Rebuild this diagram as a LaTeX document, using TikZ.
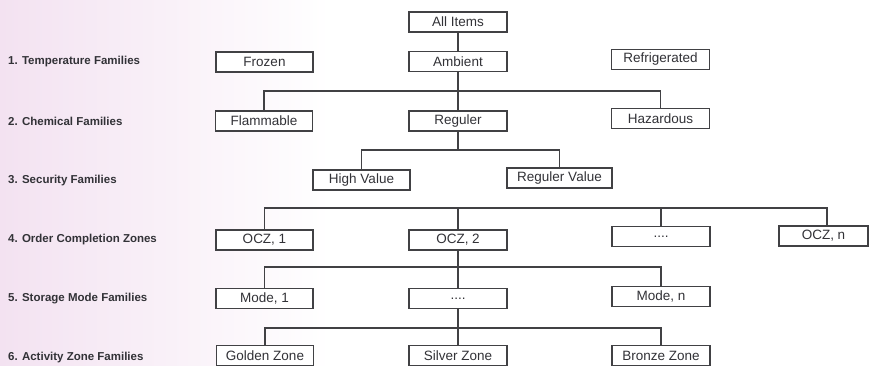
\documentclass[tikz,border=0pt]{standalone}
\usepackage{fontspec}
\setmainfont{Liberation Sans}
\definecolor{ink}{RGB}{50,50,55}
\definecolor{linec}{RGB}{65,65,68}
\definecolor{pinkbg}{RGB}{243,226,241}
\begin{document}
\begin{tikzpicture}[x=1pt,y=-1pt,
  box/.style={draw=linec, line width=1.3pt, fill=white, inner sep=0pt,
    minimum height=20pt, text=ink, font=\fontsize{13.5}{14}\selectfont},
  wA/.style={minimum width=97pt},
  wB/.style={minimum width=98pt},
  lab/.style={anchor=west, inner sep=0pt, text=ink, font=\fontsize{11.5}{12}\selectfont\bfseries},
  conn/.style={draw=linec, line width=1.3pt}]
\useasboundingbox (0,0) rectangle (870,366);
\shade[left color=pinkbg, right color=white] (0,0) rectangle (330,366);
% level labels
\node[lab] (l1) at (8,62) {1. Temperature Families};
\node[lab] (l2) at (8,121) {2. Chemical Families};
\node[lab] (l3) at (8,181) {3. Security Families};
\node[lab] (l4) at (8,240) {4. Order Completion Zones};
\node[lab] (l5) at (8,299) {5. Storage Mode Families};
\node[lab] (l6) at (8,358) {6. Activity Zone Families};
% boxes
\node[box,wB] (all) at (458,22) {All Items};
\node[box,wA] (frozen) at (264.5,62) {Frozen};
\node[box,wB] (amb) at (458,61.5) {Ambient};
\node[box,wB] (refr) at (660.5,59.5) {Refrigerated};
\node[box,wA] (flam) at (264,121) {Flammable};
\node[box,wB] (reg) at (458,121) {Reguler};
\node[box,wB] (haz) at (660.5,118.5) {Hazardous};
\node[box,minimum width=97pt] (high) at (361.5,180) {High Value};
\node[box,minimum width=105pt] (regv) at (559.5,178) {Reguler Value};
\node[box,wA] (ocz1) at (264.5,240) {OCZ, 1};
\node[box,wB] (ocz2) at (458,240) {OCZ, 2};
\node[box,wB] (oczd) at (661,236.5) {....};
\node[box,minimum width=89pt] (oczn) at (823.5,236) {OCZ, n};
\node[box,wA] (mode1) at (264.5,298.5) {Mode, 1};
\node[box,wB] (moded) at (458,298.5) {....};
\node[box,wB] (moden) at (661,296.5) {Mode, n};
\node[box,wA] (gold) at (265,355.5) {Golden Zone};
\node[box,wB] (silv) at (458,355.5) {Silver Zone};
\node[box,wB] (bron) at (661,355.5) {Bronze Zone};
% bar points
\coordinate (b2) at (458,91);
\coordinate (b3) at (458,150);
\coordinate (b4) at (458,208);
\coordinate (b5) at (458,267);
\coordinate (b6) at (458,328);
% connectors
\draw[conn] (all) -- (amb);
\draw[conn] (amb) -- (reg);
\draw[conn] (b2) -| (flam.north);
\draw[conn] (b2) -| (haz.north);
\draw[conn] (reg) -- (b3);
\draw[conn] (b3) -| (high.north);
\draw[conn] (b3) -| (regv.north);
\draw[conn] (b4) -| (ocz1.north);
\draw[conn] (b4) -- (ocz2.north);
\draw[conn] (b4) -| (oczd.north);
\draw[conn] (b4) -| ([xshift=3.5pt]oczn.north);
\draw[conn] (ocz2) -- (moded);
\draw[conn] (b5) -| (mode1.north);
\draw[conn] (b5) -| (moden.north);
\draw[conn] (moded) -- (silv);
\draw[conn] (b6) -| (gold.north);
\draw[conn] (b6) -| (bron.north);
\end{tikzpicture}
\end{document}
